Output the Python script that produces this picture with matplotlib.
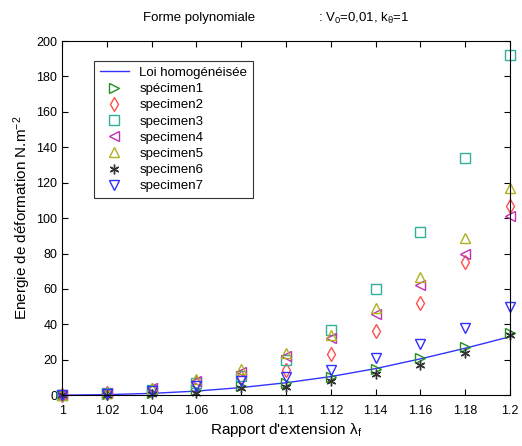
import matplotlib.pyplot as plt
import numpy as np

plt.rcParams['font.family'] = ['Liberation Sans', 'DejaVu Sans']
plt.rcParams['mathtext.default'] = 'regular'

# Rapport d'extension
lam = [1.0, 1.02, 1.04, 1.06, 1.08, 1.1, 1.12, 1.14, 1.16, 1.18, 1.2]

# Loi homogeneisee
loi = [0, 0.3, 1.0, 2.3, 4.3, 7, 10.5, 15, 20.5, 26.5, 33]

spec1 = [0, 0.8, 1.5, 3, 5, 7, 10, 15, 21, 27, 35]
spec2 = [0, 1, 3, 7, 10, 14, 23, 36, 52, 75, 107]
spec3 = [0, 1, 3, 7, 11, 20, 37, 60, 92, 134, 192]
spec4 = [0, 1.5, 4, 8, 13, 22, 32, 46, 62, 80, 101]
spec5 = [0, 1.5, 4, 9, 15, 24, 34, 49, 67, 89, 117]
spec6 = [0, 0.3, 0.5, 1.5, 4, 4.5, 8, 12, 17, 24, 34]
spec7 = [0, 0.8, 2.5, 5, 8, 10, 14, 21, 29, 38, 50]

fig = plt.figure(figsize=(5.22, 4.46), dpi=100)
ax = fig.add_axes([0.119, 0.114, 0.858, 0.794])

ax.plot(lam, loi, '-', color='#3333ff', lw=1, label='Loi homogénéisée')
mk = dict(ls='none', mfc='none', ms=7, mew=1, clip_on=False)
ax.plot(lam, spec1, marker='>', color='#209020', label='spécimen1', **mk)
ax.plot(lam, spec2, marker='d', color='#ff5050', label='specimen2', **mk)
ax.plot(lam, spec3, marker='s', color='#30b09a', label='specimen3', **mk)
ax.plot(lam, spec4, marker='<', color='#c030b0', label='specimen4', **mk)
ax.plot(lam, spec5, marker='^', color='#b0b020', label='specimen5', **mk)
ax.plot(lam, spec6, marker=(6, 2, 0), color='#333333', label='specimen6', **mk)
ax.plot(lam, spec7, marker='v', color='#3030ff', label='specimen7', **mk)

ax.set_xlim(1, 1.2)
ax.set_ylim(0, 200)
ax.set_xticks(lam)
ax.set_xticklabels(['1', '1.02', '1.04', '1.06', '1.08', '1.1', '1.12',
                    '1.14', '1.16', '1.18', '1.2'])
ax.set_yticks(np.arange(0, 201, 20))
ax.tick_params(direction='in', top=True, right=True, labelsize=9, length=4)
ax.tick_params(axis='x', pad=7)

ax.set_xlabel("Rapport d'extension $\\lambda_f$", fontsize=11, labelpad=3)
ax.set_ylabel('Energie de déformation N.m$^{-2}$', fontsize=11, labelpad=2)

# titre en deux morceaux comme dans l'original
fig.text(143 / 522, 1 - 18 / 446, 'Forme polynomiale', fontsize=9.5, ha='left', va='center')
fig.text(318 / 522, 1 - 18 / 446, ': V$_0$=0,01, k$_\\theta$=1', fontsize=9.5, ha='left', va='center')

leg = ax.legend(loc='upper left', bbox_to_anchor=(0.071, 0.944), borderaxespad=0,
                fancybox=False, edgecolor='black', fontsize=9.5, handlelength=2.2,
                labelspacing=0.3, borderpad=0.45)
leg.get_frame().set_linewidth(0.8)

fig.savefig('out.png', dpi=100)
